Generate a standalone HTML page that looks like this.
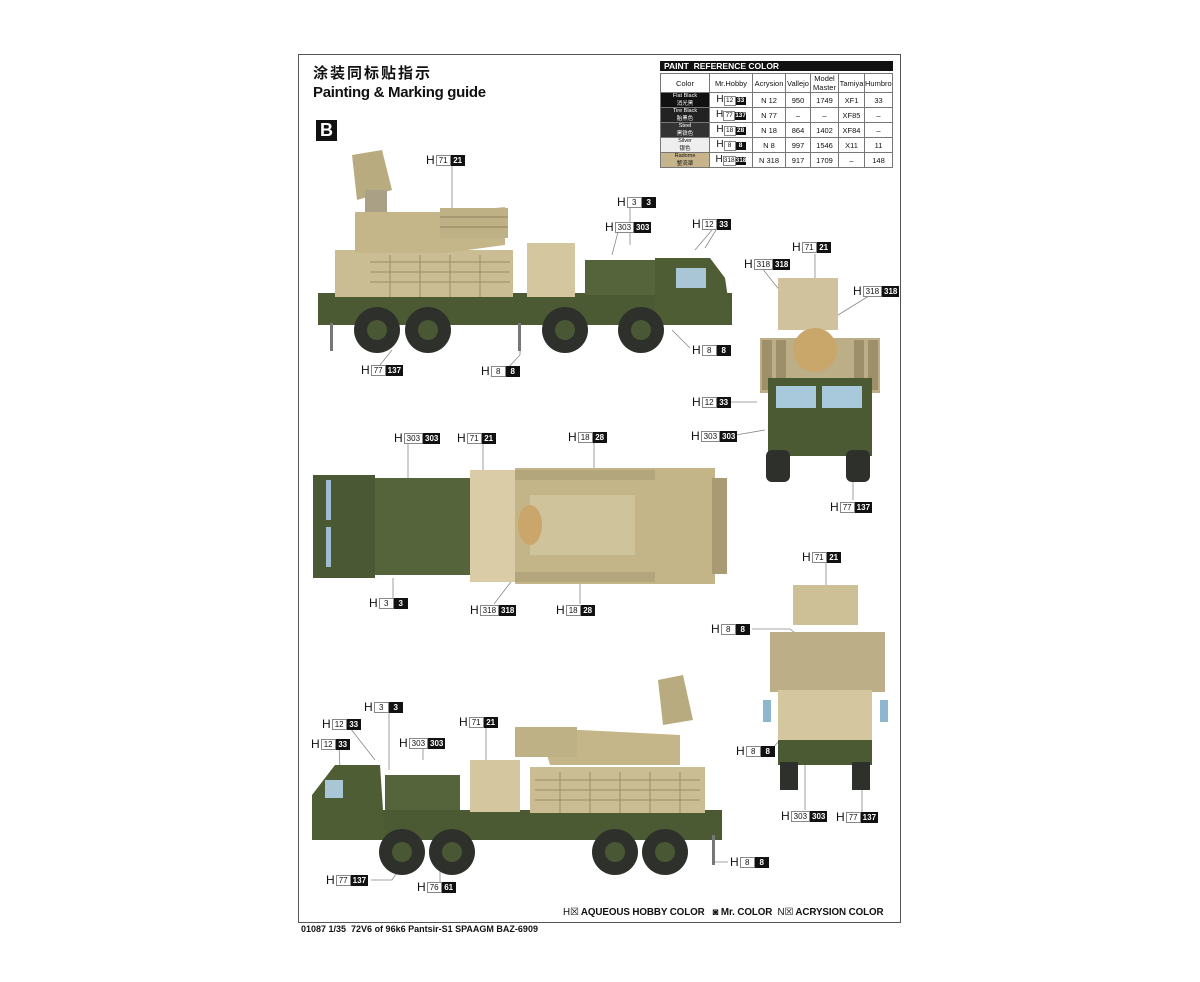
<!DOCTYPE html>
<html><head><meta charset="utf-8"><style>
body{margin:0;background:#fff;}
#p{position:relative;width:1200px;height:982px;background:#fff;overflow:hidden;font-family:"Liberation Sans","Noto Sans CJK SC",sans-serif;color:#111;}
.a{position:absolute;}
.lb{position:absolute;display:flex;align-items:center;height:11px;font-size:8px;line-height:9px;}
.lb .h{font-size:12px;line-height:11px;margin-right:1px;}
.lb .w{border:1px solid #888;padding:0 2px;min-width:9px;text-align:center;height:9px;background:#fff;}
.lb .k{background:#111;color:#fff;font-weight:bold;padding:0 2px;min-width:10px;text-align:center;height:11px;line-height:11px;}
table{border-collapse:collapse;font-size:7.5px;table-layout:fixed;}
td{border:1px solid #777;text-align:center;height:14px;padding:0;white-space:nowrap;overflow:hidden;}
.hb{font-size:10px;}
.hb span{font-size:6.5px;display:inline-block;min-width:10px;line-height:8px;}
.hb .x{border:1px solid #888;}
.hb .y{background:#111;color:#fff;font-weight:bold;}
</style></head><body><div id="p">
<div class="a" style="left:298px;top:54px;width:601px;height:867px;border:1px solid #555;"></div>
<div class="a" style="left:313px;top:62px;font-size:15px;letter-spacing:2px;font-weight:bold;">涂装同标贴指示</div>
<div class="a" style="left:313px;top:84px;font-size:15px;font-weight:bold;letter-spacing:-0.3px;">Painting &amp; Marking guide</div>
<div class="a" style="left:316px;top:120px;width:21px;height:21px;background:#111;color:#fff;font-weight:bold;font-size:18px;line-height:21px;text-align:center;">B</div>

<div class="a" style="left:660px;top:61px;width:233px;height:10px;background:#111;color:#fff;font-weight:bold;font-size:8.5px;line-height:10px;padding-left:4px;box-sizing:border-box;">PAINT &nbsp;REFERENCE COLOR</div>
<table class="a" style="left:660px;top:73px;width:233px;">
<tr><td style="width:48px">Color</td><td style="width:42px">Mr.Hobby</td><td style="width:32px">Acrysion</td><td style="width:24px">Vallejo</td><td style="width:27px">Model<br>Master</td><td style="width:25px">Tamiya</td><td>Humbrol</td></tr>
<tr><td style="background:#111;color:#fff;font-size:5.5px">Flat Black<br>消光黑</td><td class="hb">H<span class="x">12</span><span class="y">33</span></td><td>N 12</td><td>950</td><td>1749</td><td>XF1</td><td>33</td></tr>
<tr><td style="background:#222;color:#fff;font-size:5.5px">Tire Black<br>胎黑色</td><td class="hb">H<span class="x">77</span><span class="y">137</span></td><td>N 77</td><td>–</td><td>–</td><td>XF85</td><td>–</td></tr>
<tr><td style="background:#333;color:#fff;font-size:5.5px">Steel<br>黑铁色</td><td class="hb">H<span class="x">18</span><span class="y">28</span></td><td>N 18</td><td>864</td><td>1402</td><td>XF84</td><td>–</td></tr>
<tr><td style="background:#eee;font-size:5.5px">Silver<br>银色</td><td class="hb">H<span class="x">8</span><span class="y">8</span></td><td>N 8</td><td>997</td><td>1546</td><td>X11</td><td>11</td></tr>
<tr><td style="background:#c8b48a;font-size:5.5px">Radome<br>整流罩</td><td class="hb">H<span class="x">318</span><span class="y">318</span></td><td>N 318</td><td>917</td><td>1709</td><td>–</td><td>148</td></tr>
</table>

<svg class="a" style="left:0;top:0" width="1200" height="982">
<g stroke="#888" stroke-width="0.8" fill="none">
<path d="M452 166V270M630 208V245M618 232L612 255M716 230L705 248M712 230L695 250M690 348L672 330M376 370L392 350M505 371L520 355M520 355V345"/>
<path d="M815 254V280M762 268L795 310M872 294L830 320M730 402H757M730 436L765 430M853 500V470"/>
<path d="M408 444V480M483 444V480M594 442V475M393 603V578M494 604L520 570M580 604V570"/>
<path d="M826 563V600M752 629H790L810 645M760 751H770L780 740M805 810V760M862 812V775"/>
<path d="M389 708V770M347 724L375 760M339 744L340 770M423 748V760M486 728V770M371 880H392L400 868M440 886V850M728 862H712"/>
</g>
<g>
<rect x="318" y="293" width="414" height="32" fill="#4c5a33"/>
<path d="M655 258h55l15 20l7 47h-77z" fill="#4f5d35"/>
<rect x="585" y="260" width="70" height="35" fill="#56643b"/>
<rect x="335" y="250" width="178" height="47" fill="#cbbd93"/>
<g stroke="#9a8c66" stroke-width="1"><path d="M370 262H510M370 272H510M370 282H510M390 255V297M420 255V297M450 255V297M480 255V297"/></g>
<rect x="527" y="243" width="48" height="54" fill="#d4c7a0"/>
<path d="M355 212h100l50 -5v38l-60 8h-90z" fill="#c5b689"/>
<rect x="440" y="208" width="68" height="30" fill="#bfb186"/>
<g stroke="#8f8260" stroke-width="1"><path d="M440 217H508M440 227H508"/></g>
<path d="M352 155l30 -5l10 40l-35 10z" fill="#b9ab80"/>
<rect x="365" y="190" width="22" height="22" fill="#a9a085"/>
<rect x="676" y="268" width="30" height="20" fill="#a9c6d6"/>
<g fill="#2d302b"><circle cx="377" cy="330" r="23"/><circle cx="428" cy="330" r="23"/><circle cx="565" cy="330" r="23"/><circle cx="641" cy="330" r="23"/></g>
<g fill="#4a5734"><circle cx="377" cy="330" r="10"/><circle cx="428" cy="330" r="10"/><circle cx="565" cy="330" r="10"/><circle cx="641" cy="330" r="10"/></g>
<rect x="330" y="323" width="3" height="28" fill="#777"/><rect x="518" y="323" width="3" height="28" fill="#777"/>
</g>
<g>
<rect x="778" y="278" width="60" height="52" fill="#cfc29c"/>
<rect x="760" y="338" width="120" height="55" fill="#bcae86"/>
<g fill="#9c8f6a"><rect x="762" y="340" width="10" height="50"/><rect x="776" y="340" width="10" height="50"/><rect x="854" y="340" width="10" height="50"/><rect x="868" y="340" width="10" height="50"/></g>
<circle cx="815" cy="350" r="22" fill="#c9a66a"/>
<rect x="768" y="378" width="104" height="78" fill="#4c5a33"/>
<rect x="776" y="386" width="40" height="22" fill="#a8c8dc"/><rect x="822" y="386" width="40" height="22" fill="#a8c8dc"/>
<rect x="766" y="450" width="24" height="32" rx="6" fill="#2d302b"/><rect x="846" y="450" width="24" height="32" rx="6" fill="#2d302b"/>
</g>
<g>
<rect x="313" y="475" width="62" height="103" fill="#4a5933"/>
<rect x="326" y="480" width="5" height="40" fill="#9fbcd0"/><rect x="326" y="527" width="5" height="40" fill="#9fbcd0"/>
<rect x="375" y="478" width="100" height="97" fill="#56643b"/>
<rect x="470" y="470" width="45" height="112" fill="#d9cca6"/>
<rect x="515" y="468" width="200" height="116" fill="#c4b589"/>
<rect x="515" y="470" width="140" height="10" fill="#b4a67c"/><rect x="515" y="572" width="140" height="10" fill="#b4a67c"/>
<rect x="530" y="495" width="105" height="60" fill="#cfc39b"/>
<ellipse cx="530" cy="525" rx="12" ry="20" fill="#caa66b"/>
<rect x="712" y="478" width="15" height="96" fill="#a89a72"/>
</g>
<g>
<rect x="793" y="585" width="65" height="40" fill="#cdbf96"/>
<rect x="770" y="632" width="115" height="60" fill="#bcae86"/>
<rect x="778" y="690" width="94" height="72" fill="#d4c7a0"/>
<rect x="778" y="740" width="94" height="25" fill="#4c5a33"/>
<rect x="763" y="700" width="8" height="22" fill="#8fb6cf"/><rect x="880" y="700" width="8" height="22" fill="#8fb6cf"/>
<rect x="780" y="762" width="18" height="28" fill="#2d302b"/><rect x="852" y="762" width="18" height="28" fill="#2d302b"/>
</g>
<g>
<rect x="312" y="810" width="410" height="30" fill="#4c5a33"/>
<path d="M335 765h45l5 75h-73v-45z" fill="#4f5d35"/>
<rect x="385" y="775" width="75" height="35" fill="#56643b"/>
<rect x="530" y="767" width="175" height="46" fill="#cbbd93"/>
<g stroke="#9a8c66" stroke-width="1"><path d="M535 780H700M535 790H700M535 800H700M560 772V813M590 772V813M620 772V813M650 772V813M680 772V813"/></g>
<rect x="470" y="760" width="50" height="52" fill="#d4c7a0"/>
<path d="M540 730h40l100 5v30h-130z" fill="#c5b689"/>
<rect x="515" y="727" width="62" height="30" fill="#bfb186"/>
<path d="M658 680l25 -5l10 45l-30 5z" fill="#b9ab80"/>
<rect x="325" y="780" width="18" height="18" fill="#a9c6d6"/>
<g fill="#2d302b"><circle cx="402" cy="852" r="23"/><circle cx="452" cy="852" r="23"/><circle cx="615" cy="852" r="23"/><circle cx="665" cy="852" r="23"/></g>
<g fill="#4a5734"><circle cx="402" cy="852" r="10"/><circle cx="452" cy="852" r="10"/><circle cx="615" cy="852" r="10"/><circle cx="665" cy="852" r="10"/></g>
<rect x="712" y="835" width="3" height="30" fill="#777"/>
</g>
</svg>

<div class="lb" style="left:426px;top:155px"><span class="h">H</span><span class="w">71</span><span class="k">21</span></div>
<div class="lb" style="left:617px;top:197px"><span class="h">H</span><span class="w">3</span><span class="k">3</span></div>
<div class="lb" style="left:605px;top:222px"><span class="h">H</span><span class="w">303</span><span class="k">303</span></div>
<div class="lb" style="left:692px;top:219px"><span class="h">H</span><span class="w">12</span><span class="k">33</span></div>
<div class="lb" style="left:692px;top:345px"><span class="h">H</span><span class="w">8</span><span class="k">8</span></div>
<div class="lb" style="left:361px;top:365px"><span class="h">H</span><span class="w">77</span><span class="k">137</span></div>
<div class="lb" style="left:481px;top:366px"><span class="h">H</span><span class="w">8</span><span class="k">8</span></div>

<div class="lb" style="left:792px;top:242px"><span class="h">H</span><span class="w">71</span><span class="k">21</span></div>
<div class="lb" style="left:744px;top:259px"><span class="h">H</span><span class="w">318</span><span class="k">318</span></div>
<div class="lb" style="left:853px;top:286px"><span class="h">H</span><span class="w">318</span><span class="k">318</span></div>
<div class="lb" style="left:692px;top:397px"><span class="h">H</span><span class="w">12</span><span class="k">33</span></div>
<div class="lb" style="left:691px;top:431px"><span class="h">H</span><span class="w">303</span><span class="k">303</span></div>
<div class="lb" style="left:830px;top:502px"><span class="h">H</span><span class="w">77</span><span class="k">137</span></div>

<div class="lb" style="left:394px;top:433px"><span class="h">H</span><span class="w">303</span><span class="k">303</span></div>
<div class="lb" style="left:457px;top:433px"><span class="h">H</span><span class="w">71</span><span class="k">21</span></div>
<div class="lb" style="left:568px;top:432px"><span class="h">H</span><span class="w">18</span><span class="k">28</span></div>
<div class="lb" style="left:369px;top:598px"><span class="h">H</span><span class="w">3</span><span class="k">3</span></div>
<div class="lb" style="left:470px;top:605px"><span class="h">H</span><span class="w">318</span><span class="k">318</span></div>
<div class="lb" style="left:556px;top:605px"><span class="h">H</span><span class="w">18</span><span class="k">28</span></div>

<div class="lb" style="left:802px;top:552px"><span class="h">H</span><span class="w">71</span><span class="k">21</span></div>
<div class="lb" style="left:711px;top:624px"><span class="h">H</span><span class="w">8</span><span class="k">8</span></div>
<div class="lb" style="left:736px;top:746px"><span class="h">H</span><span class="w">8</span><span class="k">8</span></div>
<div class="lb" style="left:781px;top:811px"><span class="h">H</span><span class="w">303</span><span class="k">303</span></div>
<div class="lb" style="left:836px;top:812px"><span class="h">H</span><span class="w">77</span><span class="k">137</span></div>

<div class="lb" style="left:364px;top:702px"><span class="h">H</span><span class="w">3</span><span class="k">3</span></div>
<div class="lb" style="left:322px;top:719px"><span class="h">H</span><span class="w">12</span><span class="k">33</span></div>
<div class="lb" style="left:311px;top:739px"><span class="h">H</span><span class="w">12</span><span class="k">33</span></div>
<div class="lb" style="left:399px;top:738px"><span class="h">H</span><span class="w">303</span><span class="k">303</span></div>
<div class="lb" style="left:459px;top:717px"><span class="h">H</span><span class="w">71</span><span class="k">21</span></div>
<div class="lb" style="left:326px;top:875px"><span class="h">H</span><span class="w">77</span><span class="k">137</span></div>
<div class="lb" style="left:417px;top:882px"><span class="h">H</span><span class="w">76</span><span class="k">61</span></div>
<div class="lb" style="left:730px;top:857px"><span class="h">H</span><span class="w">8</span><span class="k">8</span></div>

<div class="a" style="left:563px;top:907px;font-size:9.8px;font-weight:bold;white-space:nowrap;letter-spacing:-0.1px;"><span style="font-weight:normal">H☒</span> AQUEOUS HOBBY COLOR &nbsp; ◙ Mr. COLOR &nbsp;<span style="font-weight:normal">N☒</span> ACRYSION COLOR</div>
<div class="a" style="left:301px;top:924px;font-size:9px;font-weight:bold;white-space:nowrap;">01087 1/35 &nbsp;72V6 of 96k6 Pantsir-S1 SPAAGM BAZ-6909</div>
</div></body></html>
